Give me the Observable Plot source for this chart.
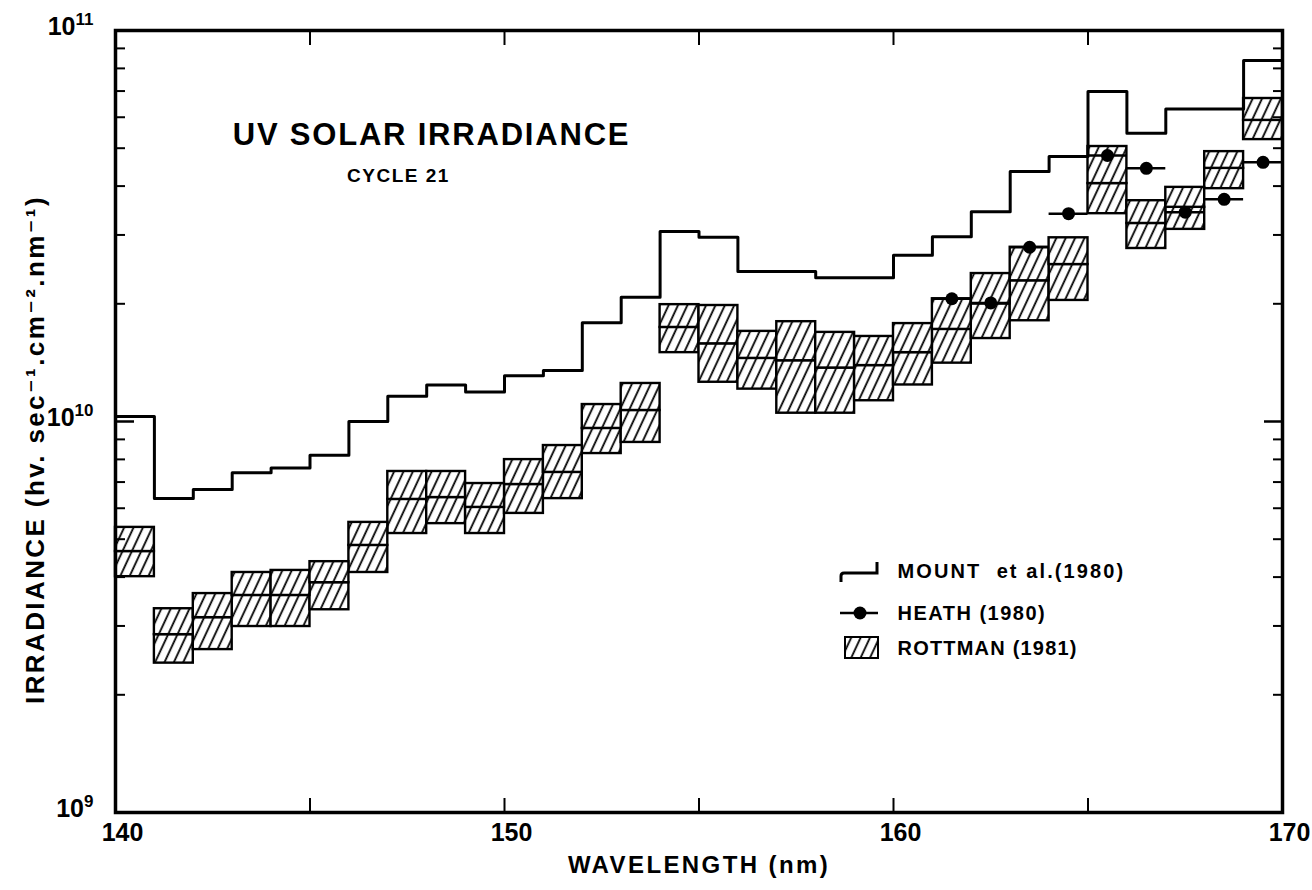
<!DOCTYPE html>
<html><head><meta charset="utf-8">
<script src="https://cdn.jsdelivr.net/npm/d3@7"></script>
<script src="https://cdn.jsdelivr.net/npm/@observablehq/plot@0.6"></script>
<style>body{margin:0;background:#fff} svg{display:block}</style>
</head><body><div id="chart"></div>
<script>
// ---- data ----
const binStart = [140,141,142,143,144,145,146,147,148,149,150,151,152,153,154,155,156,157,158,159,160,161,162,163,164,165,166,167,168,169];
const binWidth = 1;
const mount = [1.03e10,6.35e9,6.7e9,7.4e9,7.6e9,8.2e9,1.0e10,1.16e10,1.24e10,1.19e10,1.31e10,1.35e10,1.79e10,2.08e10,3.06e10,2.96e10,2.42e10,2.42e10,2.33e10,2.33e10,2.66e10,2.97e10,3.44e10,4.36e10,4.76e10,6.98e10,5.46e10,6.3e10,6.3e10,8.38e10];
const rottmanTop = [5.36e9,3.32e9,3.63e9,4.11e9,4.16e9,4.38e9,5.52e9,7.45e9,7.45e9,6.94e9,7.99e9,8.68e9,1.105e10,1.251e10,1.99e10,1.98e10,1.70e10,1.80e10,1.69e10,1.65e10,1.78e10,2.06e10,2.39e10,2.79e10,2.95e10,5.05e10,3.67e10,3.97e10,4.90e10,6.70e10];
const rottmanMid = [4.65e9,2.85e9,3.15e9,3.59e9,3.59e9,3.87e9,4.82e9,6.32e9,6.39e9,6.03e9,6.90e9,7.41e9,9.60e9,1.067e10,1.74e10,1.58e10,1.45e10,1.43e10,1.37e10,1.39e10,1.50e10,1.72e10,2.00e10,2.29e10,2.52e10,4.06e10,3.21e10,3.53e10,4.44e10,5.89e10];
const rottmanLow = [4.01e9,2.41e9,2.61e9,2.99e9,2.99e9,3.30e9,4.11e9,5.17e9,5.48e9,5.17e9,5.82e9,6.35e9,8.28e9,8.84e9,1.50e10,1.26e10,1.21e10,1.05e10,1.05e10,1.13e10,1.24e10,1.41e10,1.63e10,1.81e10,2.04e10,3.40e10,2.77e10,3.10e10,3.94e10,5.26e10];
const heathStart = [161,162,163,164,165,166,167,168,169];
const heath = [2.06e10,2.01e10,2.79e10,3.40e10,4.79e10,4.44e10,3.43e10,3.70e10,4.6e10];

const xLabelTicks = [140,150,160,170];
const xInnerTicks = [145,150,155,160,165];
const yLabelTicks = [1e9,1e10,1e11];
const yTickExponents = ["9","10","11"];
const yMajorInner = [1e10];
const yMinorInner = [2e9,3e9,4e9,5e9,6e9,7e9,8e9,9e9,2e10,3e10,4e10,5e10,6e10,7e10,8e10,9e10];

const title = "UV SOLAR IRRADIANCE";
const subtitle = "CYCLE 21";
const xTitle = "WAVELENGTH (nm)";
const yTitle = "IRRADIANCE (hv. sec⁻¹.cm⁻².nm⁻¹)";
const legendLabels = ["MOUNT  et al.(1980)", "HEATH (1980)", "ROTTMAN (1981)"];

// ---- tables built from the arrays ----
const mountPts = binStart.map((w,i)=>({w, v: mount[i]}));
mountPts.push({w: binStart[binStart.length-1] + binWidth, v: mount[mount.length-1]});
const rott = binStart.map((w,i)=>({w, w2: w+binWidth, top: rottmanTop[i], mid: rottmanMid[i], low: rottmanLow[i]}));
const heathData = heathStart.map((w,i)=>({w, w2: w+binWidth, c: w+binWidth/2, v: heath[i]}));

const FONT = "'Liberation Sans', 'DejaVu Sans', sans-serif";
const blank = () => "";
const legendText = (t, dy) => Plot.text([t], {frameAnchor: "top-left", dx: 782, dy, textAnchor: "start", lineAnchor: "middle",
  fontSize: 20, fontWeight: "bold"});

const chart = Plot.plot({
  width: 1312, height: 890,
  marginLeft: 115, marginRight: 30, marginTop: 30, marginBottom: 78,
  style: {fontFamily: FONT, background: "white", color: "black", overflow: "visible"},
  x: {domain: [140, 170]},
  y: {type: "log", domain: [1e9, 1e11]},
  marks: [
    Plot.rect(rott, {x1: "w", x2: "w2", y1: "low", y2: "mid", fill: "url(#hatch)", stroke: "black", strokeWidth: 2.4}),
    Plot.rect(rott, {x1: "w", x2: "w2", y1: "mid", y2: "top", fill: "url(#hatch)", stroke: "black", strokeWidth: 2.4}),
    Plot.line(mountPts, {x: "w", y: "v", curve: "step-after", stroke: "black", strokeWidth: 3}),
    Plot.ruleY(heathData, {x1: "w", x2: "w2", y: "v", stroke: "black", strokeWidth: 2.5}),
    Plot.dot(heathData, {x: "c", y: "v", r: 6.5, fill: "black", stroke: "none"}),
    Plot.frame({stroke: "black", strokeWidth: 3.5}),
    // inward ticks
    Plot.axisX({anchor: "bottom", ticks: xInnerTicks, tickSize: -14, tickFormat: blank, strokeWidth: 2, label: null}),
    Plot.axisX({anchor: "top", ticks: xInnerTicks, tickSize: -14, tickFormat: blank, strokeWidth: 2, label: null}),
    Plot.axisY({anchor: "left", ticks: yMajorInner, tickSize: -19, tickFormat: blank, strokeWidth: 2.5, label: null}),
    Plot.axisY({anchor: "left", ticks: yMinorInner, tickSize: -10, tickFormat: blank, strokeWidth: 2, label: null}),
    Plot.axisY({anchor: "right", ticks: yMajorInner, tickSize: -19, tickFormat: blank, strokeWidth: 2.5, label: null}),
    Plot.axisY({anchor: "right", ticks: yMinorInner, tickSize: -10, tickFormat: blank, strokeWidth: 2, label: null}),
    // tick labels
    Plot.axisX({anchor: "bottom", ticks: xLabelTicks, tickSize: 0, tickPadding: 11, dx: 7, fontSize: 25, fontWeight: "bold", label: null}),
    Plot.axisY({anchor: "left", ticks: yLabelTicks, tickSize: 0, tickPadding: 22, fontSize: 25, fontWeight: "bold", label: null,
      tickFormat: d => "10^" + yTickExponents[yLabelTicks.indexOf(d)], dy: -4}),
    // titles
    Plot.text([xTitle], {frameAnchor: "bottom", dy: 60, fontSize: 24, fontWeight: "bold"}),
    Plot.text([yTitle], {frameAnchor: "left", dx: -80, dy: 28, rotate: -90, textAnchor: "middle", fontSize: 26, fontWeight: "bold"}),
    Plot.text([title], {frameAnchor: "top-left", dx: 316, dy: 92, textAnchor: "middle", fontSize: 31, fontWeight: "bold"}),
    Plot.text([subtitle], {frameAnchor: "top-left", dx: 283, dy: 138, textAnchor: "middle", fontSize: 19, fontWeight: "bold"}),
    // legend text
    legendText(legendLabels[0], 541),
    legendText(legendLabels[1], 583),
    legendText(legendLabels[2], 618)
  ]
});
document.getElementById("chart").append(chart);

const svg = d3.select(chart);

// letter spacing (not a Plot text option) and superscript exponents
const spacing = new Map([[title, 1.8], [subtitle, 1.5], [xTitle, 2.4], [yTitle, 2.4],
  [legendLabels[0], 2.1], [legendLabels[1], 1.5], [legendLabels[2], 1.2]]);
svg.selectAll("text").each(function(){
  const el = d3.select(this);
  const t = el.text();
  if (spacing.has(t)) el.attr("letter-spacing", spacing.get(t));
  const m = /^10\^(\d+)$/.exec(t);
  if (m) {
    el.text("10");
    el.append("tspan").attr("font-size", 17).attr("dy", "-0.55em").text(m[1]);
  }
});

// hatch pattern
const defs = svg.insert("defs", ":first-child");
const pat = defs.append("pattern").attr("id", "hatch").attr("patternUnits", "userSpaceOnUse")
  .attr("width", 8.5).attr("height", 8.5).attr("patternTransform", "rotate(25)");
pat.append("rect").attr("width", 8.5).attr("height", 8.5).attr("fill", "white");
pat.append("line").attr("x1", 4).attr("y1", -1).attr("x2", 4).attr("y2", 9.5).attr("stroke", "black").attr("stroke-width", 1.8);

// legend keys (inside the plot, pixel layout)
const lg = svg.append("g");
lg.append("path").attr("d", "M841,582 L841,576 Q841,573 844,573 L877,573 L877,562").attr("fill", "none").attr("stroke", "black").attr("stroke-width", 3);
lg.append("line").attr("x1", 840).attr("x2", 878).attr("y1", 613).attr("y2", 613).attr("stroke", "black").attr("stroke-width", 2.5);
lg.append("circle").attr("cx", 860).attr("cy", 613).attr("r", 6.5).attr("fill", "black");
lg.append("rect").attr("x", 845).attr("y", 637).attr("width", 33).attr("height", 21).attr("fill", "url(#hatch)").attr("stroke", "black").attr("stroke-width", 2);
</script>
</body></html>
